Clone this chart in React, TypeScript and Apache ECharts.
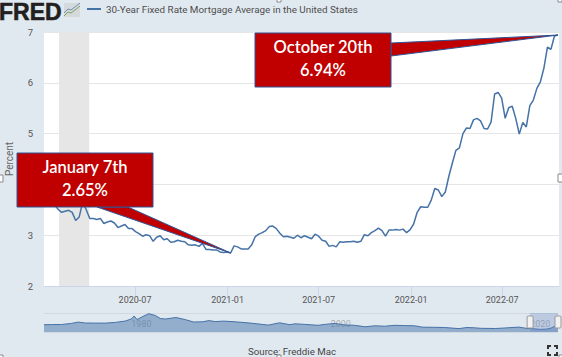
import React, { useEffect, useRef } from "react";
import * as echarts from "echarts";

const seriesName = "30-Year Fixed Rate Mortgage Average in the United States";
const firstWeek = "2020-01-02";
const rates2020 = [3.72,3.64,3.65,3.60,3.51,3.45,3.47,3.49,3.45,3.29,3.36,3.65,3.50,3.33,3.33,3.31,3.33,3.23,3.26,3.28,3.24,3.15,3.18,3.21,3.13,3.13,3.07,3.03,2.98,3.01,2.99,2.88,2.96,2.99,2.91,2.93,2.86,2.87,2.90,2.88,2.87,2.81,2.80,2.81,2.78,2.84,2.72,2.72,2.71,2.71,2.67,2.66,2.67];
const rates2021 = [2.65,2.79,2.77,2.73,2.73,2.73,2.81,2.97,3.02,3.05,3.09,3.17,3.18,3.13,3.04,2.97,2.98,2.96,2.94,3.00,2.95,2.99,2.96,2.93,3.02,2.98,2.90,2.88,2.78,2.80,2.77,2.87,2.86,2.87,2.87,2.88,2.86,2.88,3.01,2.99,3.05,3.09,3.14,3.09,2.98,3.10,3.10,3.11,3.10,3.12,3.05,3.11];
const rates2022 = [3.22,3.45,3.56,3.55,3.55,3.69,3.92,3.89,3.76,3.85,4.16,4.42,4.67,4.72,5.00,5.11,5.10,5.27,5.30,5.25,5.10,5.09,5.23,5.78,5.81,5.70,5.30,5.51,5.54,5.30,4.99,5.22,5.13,5.55,5.66,5.89,6.02,6.29,6.70,6.66,6.92,6.94];
const xTickDates = ["2020-07-01", "2021-01-01", "2021-07-01", "2022-01-01", "2022-07-01"];
const recession = ["2020-02-01", "2020-04-01"];
const overviewDates = ["1971-04-01","1972-01-01","1973-01-01","1974-01-01","1974-09-01","1975-06-01","1976-06-01","1977-06-01","1978-06-01","1979-06-01","1980-01-01","1980-04-15","1980-08-01","1981-03-01","1981-10-01","1982-06-01","1982-12-01","1983-06-01","1984-07-01","1985-06-01","1986-04-01","1987-03-01","1987-10-15","1988-06-01","1989-04-01","1990-06-01","1991-06-01","1992-06-01","1993-10-01","1994-11-15","1995-12-01","1996-06-01","1997-06-01","1998-10-01","1999-06-01","2000-05-15","2001-06-01","2002-06-01","2003-06-15","2004-06-01","2005-06-01","2006-06-15","2007-06-01","2008-06-01","2009-04-01","2010-06-01","2011-06-01","2012-11-15","2013-09-01","2014-06-01","2015-01-15","2016-07-15","2017-06-01","2018-11-15","2019-09-01","2020-06-01","2021-01-07","2021-09-01","2022-03-01","2022-06-20","2022-08-04","2022-10-20"];
const overviewValues = [7.3,7.4,7.5,8.6,9.9,9.0,8.9,8.9,9.6,11.0,13.0,16.0,12.5,15.5,18.3,16.5,13.5,13.0,14.5,12.4,10.0,10.2,11.4,10.4,10.9,10.2,9.4,8.4,6.9,9.2,7.3,8.2,7.6,6.7,7.6,8.6,7.1,6.7,5.2,6.2,5.8,6.7,6.4,6.2,4.8,4.7,4.5,3.4,4.5,4.2,3.7,3.5,4.0,4.9,3.6,3.2,2.65,2.9,4.2,5.8,5.0,6.94];
const overviewLabels = ["1980-01-01", "2000-01-01", "2020-01-01"];

const DAY = 86400000;
const toTime = (d: string) => {
  const [y, m, dd] = d.split("-").map(Number);
  return new Date(y, m - 1, dd).getTime();
};
const rates = [...rates2020, ...rates2021, ...rates2022];
const mainData = rates.map((v, i) => [toTime(firstWeek) + i * 7 * DAY, v]);
const overviewData = overviewDates.map((d, i) => [toTime(d), overviewValues[i]]);
const last = mainData[mainData.length - 1];
const lowPoint = mainData[rates2020.length];

const bg = "#E1E9F0";
const line = "#4572A7";
const calloutRed = "#C00000";
const calloutEdge = "#2F5597";
const FONT = "Roboto, sans-serif";

function callout(rect: number[], base: number[][], tip: number[], title: string, value: string) {
  const [x, y, w, h] = rect;
  const common = { fill: calloutRed, stroke: calloutEdge, lineWidth: 1 };
  const font = "600 16.5px Lato, sans-serif";
  return [
    { type: "polygon", z: 50, shape: { points: [...base, tip] }, style: common },
    { type: "rect", z: 51, shape: { x, y, width: w, height: h }, style: common },
    { type: "text", z: 52, x: x + w / 2, y: y + 14, style: { text: title, fill: "#fff", font, align: "center", verticalAlign: "middle" } },
    { type: "text", z: 52, x: x + w / 2, y: y + 37, style: { text: value, fill: "#fff", font, align: "center", verticalAlign: "middle" } },
  ];
}

function handle(x: number) {
  return { type: "rect", z: 40, shape: { x: x - 3, y: 316, width: 6, height: 12, r: 1 }, style: { fill: "#F2F2F2", stroke: "#999", lineWidth: 1 } };
}

function chip(x: number, y: number, w: number, h: number) {
  return { type: "rect", z: 60, shape: { x, y, width: w, height: h }, style: { fill: "#fff", stroke: "#8A8A8A", lineWidth: 1 } };
}

function bracket(points: number[][]) {
  return { type: "polyline", z: 30, shape: { points }, style: { stroke: "#333", lineWidth: 2, fill: "none" } };
}

export default function App() {
  const ref = useRef<HTMLDivElement>(null);
  useEffect(() => {
    const chart = echarts.init(ref.current!, undefined, { renderer: "svg" });
    chart.setOption({
      animation: false,
      backgroundColor: bg,
      textStyle: { fontFamily: FONT },
      legend: {
        data: [seriesName],
        left: 82,
        top: -1,
        itemWidth: 14,
        itemHeight: 2,
        itemGap: 3,
        icon: "rect",
        textStyle: { fontFamily: FONT, fontSize: 9.85, color: "#4D4D4D" },
      },
      grid: [
        { left: 44, width: 515, top: 32, height: 254, show: true, backgroundColor: "#fff", borderWidth: 0, outerBoundsMode: "none" },
        { left: 44, width: 514, top: 313, height: 19, show: false, outerBoundsMode: "none" },
      ],
      xAxis: [
        {
          type: "value",
          gridIndex: 0,
          min: toTime(firstWeek),
          max: toTime("2022-10-22"),
          axisLine: { lineStyle: { color: "#CCD6EB", width: 1 } },
          axisTick: { length: 10, lineStyle: { color: "#CCD6EB" }, customValues: xTickDates.map(toTime) },
          splitLine: { show: false },
          axisLabel: {
            color: "#555",
            fontSize: 9,
            margin: 9,
            hideOverlap: false,
            customValues: xTickDates.map(toTime),
            formatter: (v: number) => {
              const d = new Date(v);
              return `${d.getFullYear()}-${String(d.getMonth() + 1).padStart(2, "0")}`;
            },
          },
        },
        {
          type: "value",
          gridIndex: 1,
          min: toTime("1971-04-01"),
          max: last[0],
          axisLine: { show: false },
          axisTick: { show: false },
          splitLine: { show: false },
          axisLabel: {
            inside: true,
            margin: 4,
            align: "left",
            color: "rgba(90,90,90,0.45)",
            fontSize: 9,
            hideOverlap: false,
            customValues: overviewLabels.map(toTime),
            formatter: (v: number) => String(new Date(v).getFullYear()),
          },
        },
      ],
      yAxis: [
        {
          type: "value",
          gridIndex: 0,
          min: 2,
          max: 7,
          interval: 1,
          name: "Percent",
          nameLocation: "middle",
          nameGap: 30,
          nameTextStyle: { color: "#666", fontSize: 10 },
          axisLine: { show: false },
          axisTick: { show: false },
          axisLabel: { color: "#555", fontSize: 9.5, margin: 11, align: "right" },
          splitLine: { lineStyle: { color: "#E6E6E6", width: 1 } },
        },
        {
          type: "value",
          gridIndex: 1,
          min: 0,
          max: 19,
          interval: 19,
          axisLine: { show: false },
          axisTick: { show: false },
          axisLabel: { show: false },
          splitLine: { lineStyle: { color: "#D0D8E0", width: 1 } },
        },
      ],
      series: [
        {
          name: seriesName,
          type: "line",
          xAxisIndex: 0,
          yAxisIndex: 0,
          data: mainData,
          showSymbol: false,
          clip: false,
          lineStyle: { color: line, width: 1.5 },
          itemStyle: { color: line },
          markArea: {
            silent: true,
            itemStyle: { color: "#E6E6E6" },
            data: [[{ xAxis: toTime(recession[0]) }, { xAxis: toTime(recession[1]) }]],
          },
        },
        {
          name: "overview",
          type: "line",
          xAxisIndex: 1,
          yAxisIndex: 1,
          data: overviewData,
          showSymbol: false,
          lineStyle: { color: line, width: 1 },
          itemStyle: { color: line },
          areaStyle: { color: "#4572A7", opacity: 0.5 },
        },
      ],
    });

    const tipLow = chart.convertToPixel({ gridIndex: 0 }, lowPoint) as number[];
    const tipHigh = chart.convertToPixel({ gridIndex: 0 }, last) as number[];
    const navFrom = chart.convertToPixel({ xAxisIndex: 1 }, toTime(firstWeek)) as number;
    const navTo = chart.convertToPixel({ xAxisIndex: 1 }, last[0]) as number;

    chart.setOption({
      graphic: [
        { type: "text", z: 30, x: -1, y: 0, style: { text: "FRED", fill: "#231F20", font: "900 23px 'Liberation Sans', sans-serif", stroke: "#231F20", lineWidth: 0.6 } },
        { type: "rect", z: 30, shape: { x: 64, y: 3, width: 16, height: 14 }, style: { fill: "#D5D9DB" } },
        { type: "polyline", z: 31, shape: { points: [[64, 13], [68, 9], [71, 10], [75, 7], [80, 3]] }, style: { stroke: "#6F8FB5", lineWidth: 1, fill: "none" } },
        { type: "polyline", z: 31, shape: { points: [[64, 16], [68, 12], [71, 13], [75, 10], [80, 6]] }, style: { stroke: "#7FA35A", lineWidth: 1, fill: "none" } },
        { type: "rect", z: 35, shape: { x: navFrom, y: 313, width: navTo - navFrom, height: 19 }, style: { fill: "rgba(102,133,194,0.3)" } },
        handle(navFrom),
        handle(navTo),
        ...callout([17, 153, 136, 54], [[97, 207], [128, 207]], tipLow, "January 7th", "2.65%"),
        ...callout([255, 33, 136, 54], [[391, 43], [391, 56]], tipHigh, "October 20th", "6.94%"),
        { type: "text", z: 30, x: 292, y: 351, style: { text: "Source: Freddie Mac", fill: "#444", font: `9.7px ${FONT}`, align: "center", verticalAlign: "middle" } },
        bracket([[548, 349], [548, 346], [551, 346]]),
        bracket([[554, 346], [557, 346], [557, 349]]),
        bracket([[548, 352], [548, 355], [551, 355]]),
        bracket([[554, 355], [557, 355], [557, 352]]),
        chip(-2, 175, 5, 7),
        chip(558, 174, 6, 8),
        chip(277, -3, 4, 5),
        chip(558, -3, 4, 5),
        chip(-2, 355, 5, 5),
        chip(277, 355, 4, 5),
        chip(559, 355, 5, 5),
      ],
    });
    return () => chart.dispose();
  }, []);
  return <div ref={ref} style={{ position: "fixed", left: 0, top: 0, width: 562, height: 357 }} />;
}
